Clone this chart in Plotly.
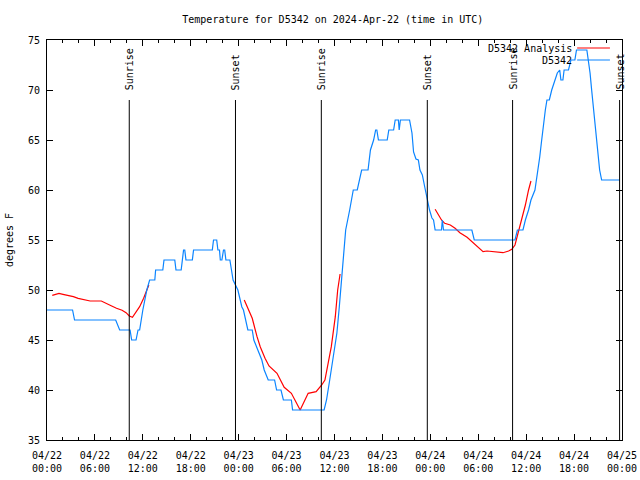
import pandas as pd
import plotly.graph_objects as go

BASE = pd.Timestamp("2024-04-22 00:00")

# Observations (hours since 2024-04-22 00:00 UTC, degrees F)
obs_hours = [0, 3.2, 3.45, 8.6, 9.1, 10.4, 10.6, 11.15, 11.4, 11.6, 12.0, 12.5, 12.85, 13.5, 13.6,
             14.5, 14.65, 16.0, 16.15, 16.8, 17.1, 17.25, 17.4, 18.2, 18.35, 20.7, 20.85, 21.25,
             21.4, 21.6, 21.7, 21.9, 22.1, 22.25, 22.4, 22.9, 23.1, 23.3, 23.9, 24.4, 24.6, 24.9,
             25.15, 25.7, 25.9, 26.4, 26.9, 27.2, 27.7, 28.5, 28.75, 29.3, 29.6, 30.6, 30.75, 34.7,
             35.0, 35.4, 35.8, 36.3, 36.6, 36.9, 37.1, 37.4, 37.9, 38.35, 38.85, 39.1, 39.4, 40.2,
             40.5, 40.9, 41.15, 41.3, 41.5, 42.6, 42.8, 43.4, 43.6, 44.0, 44.1, 44.25, 45.4, 45.7,
             45.9, 46.2, 46.5, 46.7, 47.0, 47.3, 47.6, 47.9, 48.2, 48.4, 48.6, 49.4, 49.5, 49.65,
             53.2, 53.5, 58.6, 58.9, 59.6, 59.9, 60.3, 60.6, 61.1, 61.3, 61.5, 61.7, 61.9, 62.1,
             62.4, 62.6, 62.9, 63.2, 63.6, 63.9, 64.2, 64.35, 64.6, 64.75, 65.3, 65.6, 66.1, 66.3,
             67.6, 67.8, 68.0, 68.2, 68.4, 68.6, 68.8, 69.0, 69.2, 69.45, 71.7]
obs_temps = [48, 48, 47, 47, 46, 46, 45, 45, 46, 46, 48, 50, 51, 51, 52,
             52, 53, 53, 52, 52, 54, 54, 53, 53, 54, 54, 55, 55,
             54, 54, 53, 53, 54, 54, 53, 53, 52, 51, 50, 48.3, 48, 47,
             46, 46, 45, 44, 43, 42, 41, 41, 40, 40, 39, 39, 38, 38,
             39, 41, 43, 45.7, 48.3, 51.5, 53.7, 56, 58, 60, 60, 61, 62, 62,
             64, 65, 66, 66, 65, 65, 66, 66, 67, 67, 66, 67, 67, 65.7,
             63.8, 63.1, 63, 62, 61.5, 60.3, 59, 58, 57.2, 57, 56, 56, 57, 56,
             56, 55, 55, 56, 56, 57, 58, 59, 60, 61, 62, 63.3, 64.7, 66.3,
             68, 69, 69, 70, 71, 71.7, 72, 71, 71, 72, 72, 73, 73, 74,
             74, 73, 71.7, 70, 68.3, 66.7, 65, 63.7, 62, 61, 61]

# Analysis runs (None separates runs)
ana_hours = [0.66, 1.5, 2.0, 2.7, 3.3, 3.9, 4.5, 5.4, 6.8, 7.5, 8.1, 8.7, 9.4, 9.9, 10.3, 10.7,
             11.2, 11.6, 12.1, 12.4, 12.75, None,
             24.7, 25.2, 25.7, 26.3, 26.7, 27.3, 27.8, 28.8, 29.7, 30.6, 31.7, 32.7, 33.7, 34.4,
             34.8, 35.2, 35.6, 36.1, 36.4, 36.7, None,
             48.6, 49.0, 49.4, 49.8, 50.5, 51.1, 51.7, 52.6, 53.4, 54.0, 54.6, 55.1, 55.7, 56.5,
             57.1, 57.8, 58.2, 58.6, 59.0, 59.4, 59.9, 60.3, 60.6]
ana_temps = [49.47, 49.67, 49.57, 49.47, 49.33, 49.17, 49.07, 48.9, 48.9, 48.67, 48.4, 48.17,
             47.97, 47.73, 47.4, 47.27, 47.83, 48.33, 49.17, 49.83, 50.5, None,
             49, 48, 47.17, 45.33, 44.33, 43.17, 42.4, 41.67, 40.27, 39.67, 38, 39.67, 39.83,
             40.5, 41, 42.67, 44.33, 47.33, 50, 51.6, None,
             58.07, 57.5, 57, 56.67, 56.5, 56.17, 55.73, 55.27, 54.67, 54.23, 53.83, 53.9,
             53.83, 53.73, 53.73, 53.9, 54.07, 54.5, 55.67, 57, 58.5, 60, 60.9]

sun_labels = ["Sunrise", "Sunset", "Sunrise", "Sunset", "Sunrise", "Sunset"]
sun_hours = [10.3, 23.6, 34.35, 47.62, 58.3, 71.7]

series_names = ["D5342 Analysis", "D5342"]
series_colors = ["#ff0000", "#0a84ff"]


def to_time(hours):
    return [None if h is None else BASE + pd.Timedelta(hours=h) for h in hours]


FONT = "DejaVu Sans Mono"

fig = go.Figure()
fig.add_trace(go.Scatter(x=to_time(ana_hours), y=ana_temps, mode="lines", name=series_names[0],
                         line=dict(color=series_colors[0], width=1.2), connectgaps=False))
fig.add_trace(go.Scatter(x=to_time(obs_hours), y=obs_temps, mode="lines", name=series_names[1],
                         line=dict(color=series_colors[1], width=1.2)))

for lab, h in zip(sun_labels, sun_hours):
    t = BASE + pd.Timedelta(hours=h)
    fig.add_shape(type="line", xref="x", yref="paper", x0=t, x1=t, y0=0, y1=0.85,
                  line=dict(color="black", width=1))
    fig.add_annotation(x=t, xref="x", y=0.87, yref="paper", text=lab, showarrow=False,
                       textangle=-90, xanchor="center", yanchor="bottom",
                       font=dict(family=FONT, size=10, color="black"))

# gnuplot-style key: text right-aligned, sample line to its right
for i, (nm, col) in enumerate(zip(series_names, series_colors)):
    yk = 0.98 - i * 0.03
    fig.add_annotation(x=0.917, xref="paper", y=yk, yref="paper", text=nm, showarrow=False,
                       xanchor="right", yanchor="middle", font=dict(family=FONT, size=10, color="black"))
    fig.add_shape(type="line", xref="paper", yref="paper", x0=0.922, x1=0.979, y0=yk, y1=yk,
                  line=dict(color=col, width=1.2))

fig.update_layout(
    width=640, height=480,
    margin=dict(l=47, r=18, t=40, b=40),
    paper_bgcolor="white", plot_bgcolor="white",
    font=dict(family=FONT, size=10, color="black"),
    title=dict(text="Temperature for D5342 on 2024-Apr-22 (time in UTC)", x=0.52, xanchor="center",
               y=0.96, yref="container", yanchor="middle", font=dict(family=FONT, size=10)),
    showlegend=False,
)
fig.update_xaxes(
    type="date", range=[BASE, BASE + pd.Timedelta(hours=72)], automargin=False,
    tick0=BASE, dtick=6 * 3600 * 1000, tickformat="%m/%d<br>%H:%M",
    ticks="inside", ticklen=6, tickcolor="black", showline=True, linecolor="black", linewidth=1,
    mirror="ticks", showgrid=False, zeroline=False, ticklabelstandoff=6,
    minor=dict(dtick=2 * 3600 * 1000, ticks="inside", ticklen=3, tickcolor="black", showgrid=False),
)
fig.update_yaxes(
    range=[35, 75], dtick=5, ticks="inside", ticklen=6, tickcolor="black", automargin=False,
    showline=True, linecolor="black", linewidth=1, mirror="ticks", showgrid=False, zeroline=False,
    title=dict(text="degrees F", font=dict(family=FONT, size=10), standoff=12),
    ticklabelstandoff=4,
)

fig.write_html("out.html", config={"displayModeBar": False},
               post_script="document.body.style.margin='0';document.body.style.overflow='hidden';")
